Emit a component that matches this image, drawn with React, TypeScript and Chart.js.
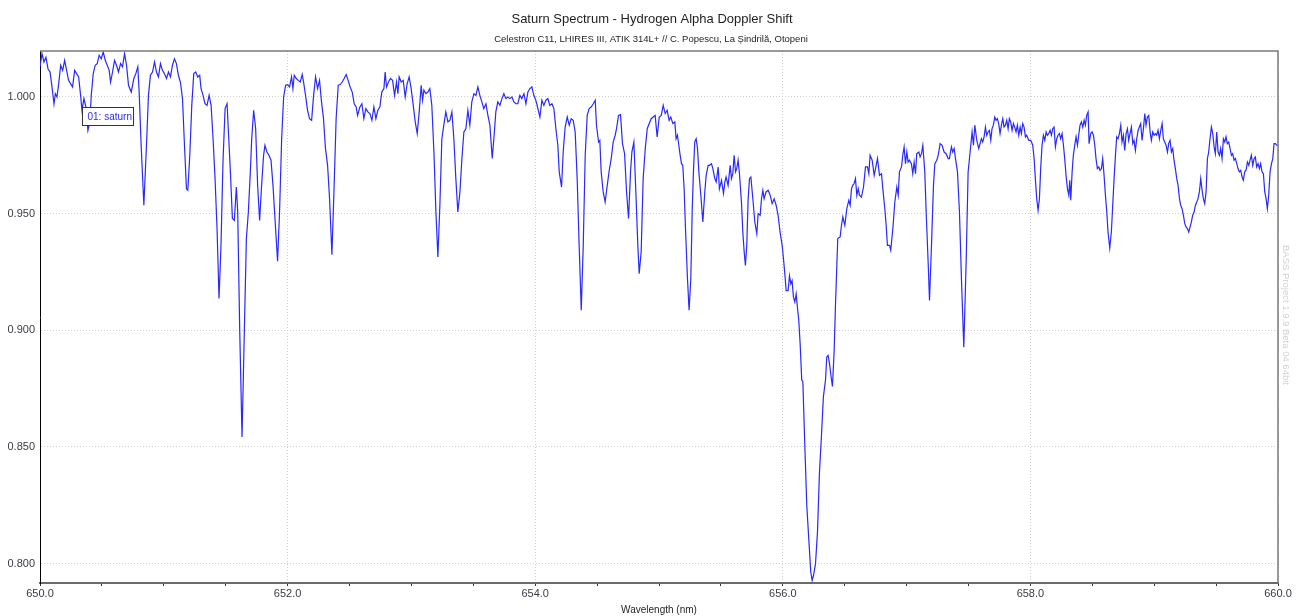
import { useEffect, useRef } from 'react';
import { Chart, registerables } from 'chart.js';

Chart.register(...registerables);

const TITLE = 'Saturn Spectrum - Hydrogen Alpha Doppler Shift';
const SUBTITLE = 'Celestron C11, LHIRES III, ATIK 314L+ // C. Popescu, La Șindrilă, Otopeni';
const X_TITLE = 'Wavelength (nm)';
const SERIES_NAME = '01: saturn';
const WATERMARK = 'BASS Project 1.9.9 Beta 04 64bit';

const X_MIN = 650;
const X_MAX = 660;
const Y_MIN = 0.7917;
const Y_MAX = 1.0197;
const X_TICKS = [650, 650.5, 651, 651.5, 652, 652.5, 653, 653.5, 654, 654.5, 655, 655.5, 656, 656.5, 657, 657.5, 658, 658.5, 659, 659.5, 660];
const X_LABELLED = [650, 652, 654, 656, 658, 660];
const Y_TICKS = [0.8, 0.85, 0.9, 0.95, 1.0];

const WAVELENGTH_NM = [
  650.000, 650.016, 650.032, 650.048, 650.065, 650.081, 650.097, 650.113, 650.124, 650.137,
  650.151, 650.167, 650.183, 650.199, 650.215, 650.231, 650.247, 650.263, 650.280, 650.296,
  650.312, 650.328, 650.339, 650.355, 650.371, 650.387, 650.403, 650.414, 650.430, 650.446,
  650.462, 650.478, 650.495, 650.511, 650.527, 650.543, 650.559, 650.570, 650.586, 650.602,
  650.618, 650.634, 650.651, 650.667, 650.683, 650.699, 650.715, 650.737, 650.758, 650.774,
  650.790, 650.801, 650.817, 650.839, 650.860, 650.876, 650.892, 650.909, 650.925, 650.941,
  650.957, 650.973, 650.989, 651.005, 651.022, 651.038, 651.054, 651.070, 651.086, 651.102,
  651.118, 651.134, 651.151, 651.167, 651.183, 651.194, 651.210, 651.226, 651.242, 651.258,
  651.274, 651.290, 651.301, 651.317, 651.333, 651.349, 651.366, 651.382, 651.398, 651.414,
  651.430, 651.446, 651.462, 651.478, 651.495, 651.511, 651.522, 651.538, 651.554, 651.570,
  651.586, 651.597, 651.613, 651.632, 651.651, 651.667, 651.683, 651.699, 651.710, 651.726,
  651.742, 651.758, 651.774, 651.790, 651.806, 651.817, 651.833, 651.849, 651.866, 651.882,
  651.898, 651.919, 651.935, 651.952, 651.968, 651.984, 652.000, 652.016, 652.032, 652.043,
  652.054, 652.070, 652.086, 652.102, 652.118, 652.129, 652.145, 652.161, 652.177, 652.194,
  652.210, 652.226, 652.242, 652.258, 652.274, 652.290, 652.306, 652.323, 652.339, 652.358,
  652.376, 652.392, 652.409, 652.425, 652.441, 652.457, 652.473, 652.489, 652.505, 652.522,
  652.538, 652.554, 652.565,
  652.584, 652.600, 652.616, 652.632, 652.648, 652.665, 652.681, 652.697, 652.713, 652.729,
  652.745, 652.761, 652.778, 652.788, 652.799, 652.815, 652.831, 652.848, 652.864, 652.880,
  652.891, 652.901, 652.918, 652.934, 652.950, 652.966, 652.982, 652.998, 653.015, 653.031,
  653.047, 653.063, 653.079, 653.090, 653.101, 653.117, 653.133, 653.149, 653.165, 653.182,
  653.198, 653.214, 653.230, 653.246, 653.262, 653.278, 653.295, 653.311, 653.327, 653.343,
  653.359, 653.375, 653.392, 653.408, 653.424, 653.440, 653.456, 653.472, 653.488, 653.505,
  653.521, 653.537, 653.553, 653.569, 653.585, 653.602, 653.618, 653.634, 653.653, 653.666,
  653.682, 653.698, 653.715, 653.731, 653.747, 653.763, 653.779, 653.795, 653.812, 653.828,
  653.844, 653.860, 653.876, 653.892, 653.909, 653.925, 653.941, 653.957, 653.973, 653.989,
  654.005, 654.022, 654.038, 654.054, 654.070, 654.086, 654.102, 654.118, 654.135, 654.151,
  654.167, 654.183, 654.194, 654.213, 654.226, 654.242, 654.259, 654.275, 654.291, 654.307,
  654.323, 654.339, 654.355, 654.372, 654.388, 654.404, 654.420, 654.436, 654.452, 654.469,
  654.485, 654.495, 654.512, 654.522, 654.533, 654.549, 654.565, 654.582, 654.598, 654.614,
  654.630, 654.646, 654.657, 654.673, 654.689, 654.705, 654.722, 654.738, 654.754, 654.770,
  654.781, 654.797, 654.813, 654.829, 654.840, 654.856, 654.872, 654.889, 654.905, 654.921,
  654.937, 654.953, 654.969, 654.985, 655.002, 655.018, 655.034, 655.050, 655.066, 655.082,
  655.095, 655.112, 655.128, 655.138, 655.149, 655.160, 655.171, 655.182, 655.192, 655.203,
  655.214, 655.230, 655.243, 655.257, 655.268, 655.278, 655.289, 655.300, 655.311, 655.322,
  655.338, 655.354, 655.370, 655.381, 655.397, 655.408, 655.424, 655.435, 655.451, 655.462,
  655.478, 655.488, 655.505, 655.521, 655.532, 655.542, 655.558, 655.575, 655.585, 655.596,
  655.607, 655.618, 655.628, 655.639, 655.650, 655.666, 655.677, 655.688, 655.698, 655.709,
  655.720, 655.731, 655.742, 655.758, 655.774, 655.790, 655.801, 655.817, 655.828, 655.839,
  655.849, 655.865, 655.882, 655.898, 655.914, 655.930, 655.946, 655.962, 655.978, 655.995,
  656.005, 656.019, 656.027, 656.043, 656.054, 656.065, 656.075, 656.086, 656.097, 656.108,
  656.118, 656.129, 656.140, 656.153, 656.162, 656.178, 656.194, 656.210, 656.226, 656.237,
  656.248, 656.264, 656.280, 656.296, 656.312, 656.328, 656.345, 656.355, 656.366, 656.377,
  656.390, 656.401, 656.415, 656.425, 656.436,
  656.444, 656.463, 656.474, 656.485, 656.501, 656.517, 656.533, 656.544, 656.555, 656.565,
  656.576, 656.587, 656.598, 656.609, 656.619, 656.635, 656.652, 656.668, 656.684, 656.695,
  656.705, 656.722, 656.738, 656.754, 656.765, 656.781, 656.797, 656.808, 656.824, 656.835,
  656.845, 656.862, 656.872, 656.889, 656.905, 656.921, 656.932, 656.942, 656.959, 656.969,
  656.980, 656.991, 657.002, 657.012, 657.023, 657.039, 657.050, 657.061, 657.072, 657.082,
  657.099, 657.109, 657.120, 657.131, 657.147, 657.158, 657.174, 657.185, 657.201, 657.217,
  657.228, 657.244, 657.255, 657.271, 657.287, 657.303, 657.319, 657.336, 657.346, 657.362,
  657.373, 657.384, 657.395, 657.411, 657.427, 657.443, 657.462, 657.481, 657.497, 657.513,
  657.529, 657.540, 657.551, 657.567, 657.583,
  657.604, 657.615, 657.626, 657.637, 657.647, 657.658, 657.669, 657.680, 657.690, 657.701,
  657.712, 657.723, 657.733, 657.744, 657.755, 657.766, 657.777, 657.787, 657.798, 657.809,
  657.820, 657.830, 657.841, 657.852, 657.863, 657.873, 657.884, 657.895, 657.906, 657.917,
  657.927, 657.938, 657.949, 657.960, 657.970, 657.987, 658.003, 658.019, 658.030, 658.040,
  658.051, 658.062, 658.073, 658.083, 658.094, 658.105, 658.116, 658.127, 658.137, 658.148,
  658.159, 658.170, 658.180, 658.191, 658.202, 658.213, 658.223, 658.234, 658.245, 658.256,
  658.267, 658.277, 658.288, 658.299, 658.310, 658.318, 658.326, 658.337, 658.347, 658.358,
  658.369, 658.380, 658.390, 658.401, 658.412, 658.423, 658.434, 658.444, 658.455, 658.466,
  658.474, 658.487, 658.498, 658.509, 658.520, 658.530, 658.541, 658.552, 658.563, 658.574,
  658.584, 658.595, 658.606, 658.617, 658.627, 658.641, 658.654, 658.665, 658.676, 658.687,
  658.697, 658.708, 658.719, 658.730, 658.740, 658.751, 658.762, 658.773, 658.784, 658.794,
  658.805, 658.816, 658.827, 658.837, 658.848, 658.859, 658.870, 658.880, 658.891, 658.902,
  658.913, 658.924, 658.934, 658.945, 658.956, 658.967, 658.977, 658.988, 658.999, 659.010,
  659.020, 659.031, 659.042, 659.053, 659.064, 659.074, 659.085, 659.096, 659.107, 659.117,
  659.128, 659.139, 659.150, 659.160, 659.171, 659.182, 659.193, 659.204, 659.214, 659.225,
  659.236, 659.247, 659.257, 659.268, 659.279, 659.290, 659.300, 659.311, 659.322, 659.333,
  659.344, 659.354, 659.365, 659.376, 659.387, 659.397, 659.408, 659.419, 659.430, 659.440,
  659.451, 659.462, 659.473, 659.484, 659.494, 659.505, 659.516, 659.527, 659.537, 659.548,
  659.559, 659.570, 659.580, 659.591, 659.602, 659.613, 659.624, 659.634, 659.645, 659.656,
  659.667, 659.677, 659.688, 659.699, 659.710, 659.720, 659.731, 659.742, 659.753, 659.764,
  659.774, 659.785, 659.796, 659.807, 659.817, 659.828, 659.839, 659.850, 659.860, 659.871,
  659.882, 659.893, 659.904, 659.914, 659.925, 659.936, 659.947, 659.958, 659.968, 659.979,
  659.990, 660.000,
];

const RELATIVE_FLUX = [
  1.0129, 1.0186, 1.0150, 1.0170, 1.0120, 1.0107, 1.0043, 0.9970, 1.0014, 1.0000,
  1.0057, 1.0136, 1.0114, 1.0157, 1.0114, 1.0071, 1.0057, 1.0043, 1.0114, 1.0100,
  1.0086, 1.0007, 0.9943, 0.9993, 0.9957, 0.9857, 0.9893, 1.0007, 1.0100, 1.0136,
  1.0143, 1.0179, 1.0164, 1.0193, 1.0157, 1.0136, 1.0114, 1.0064, 1.0107, 1.0157,
  1.0136, 1.0107, 1.0143, 1.0129, 1.0186, 1.0136, 1.0050, 1.0021, 1.0079, 1.0100,
  1.0129, 1.0021, 0.9793, 0.9536, 0.9793, 1.0007, 1.0093, 1.0107, 1.0150, 1.0107,
  1.0086, 1.0143, 1.0114, 1.0100, 1.0079, 1.0107, 1.0086, 1.0136, 1.0164, 1.0143,
  1.0093, 1.0064, 0.9993, 0.9793, 0.9607, 0.9600, 0.9750, 0.9964, 1.0100, 1.0107,
  1.0086, 1.0093, 1.0036, 1.0007, 0.9971, 0.9964, 1.0007, 0.9964, 0.9821, 0.9650,
  0.9436, 0.9136, 0.9364, 0.9721, 0.9950, 0.9971, 0.9850, 0.9679, 0.9479, 0.9471,
  0.9614, 0.9507, 0.9007, 0.8543, 0.9007, 0.9393, 0.9507, 0.9679, 0.9821, 0.9943,
  0.9864, 0.9621, 0.9471, 0.9621, 0.9750, 0.9793, 0.9764, 0.9750, 0.9729, 0.9621,
  0.9479, 0.9296, 0.9507, 0.9821, 1.0000, 1.0050, 1.0053, 1.0043, 1.0086, 1.0036,
  1.0093, 1.0079, 1.0071, 1.0064, 1.0096, 1.0064, 1.0007, 0.9943, 0.9907, 0.9900,
  1.0007, 1.0086, 1.0036, 1.0071, 0.9979, 0.9907, 0.9779, 0.9707, 0.9564, 0.9324,
  0.9621, 0.9907, 1.0050, 1.0053, 1.0064, 1.0079, 1.0096, 1.0071, 1.0043, 1.0021,
  0.9971, 0.9957, 0.9921,
  0.9957, 0.9971, 0.9907, 0.9950, 0.9936, 0.9929, 0.9900, 0.9957, 0.9907, 0.9943,
  0.9957, 1.0021, 1.0036, 1.0107, 1.0043, 1.0064, 1.0079, 1.0071, 1.0007, 1.0064,
  1.0014, 1.0086, 1.0064, 1.0071, 1.0000, 1.0057, 1.0086, 1.0036, 0.9964, 0.9893,
  0.9843, 0.9936, 1.0050, 0.9986, 1.0029, 1.0014, 1.0021, 1.0036, 0.9964, 0.9764,
  0.9507, 0.9314, 0.9536, 0.9821, 0.9879, 0.9936, 0.9893, 0.9900, 0.9936, 0.9821,
  0.9650, 0.9507, 0.9593, 0.9736, 0.9850, 0.9864, 0.9943, 0.9879, 0.9979, 1.0014,
  1.0007, 1.0043, 1.0007, 0.9979, 0.9950, 0.9971, 0.9921, 0.9879, 0.9736, 0.9821,
  0.9936, 0.9979, 0.9964, 0.9993, 1.0014, 0.9993, 1.0000, 0.9993, 1.0000, 0.9979,
  0.9971, 0.9971, 1.0007, 0.9993, 1.0014, 0.9971, 1.0021, 1.0036, 1.0043, 1.0007,
  0.9986, 0.9950, 0.9914, 0.9986, 0.9964, 0.9986, 0.9993, 0.9964, 0.9971, 0.9950,
  0.9864, 0.9793, 0.9679, 0.9614, 0.9764, 0.9871, 0.9914, 0.9879, 0.9907, 0.9900,
  0.9850, 0.9650, 0.9364, 0.9086, 0.9364, 0.9750, 0.9921, 0.9950, 0.9957, 0.9971,
  0.9986, 0.9879, 0.9807, 0.9814, 0.9679, 0.9593, 0.9550, 0.9621, 0.9686, 0.9736,
  0.9807, 0.9836, 0.9864, 0.9921, 0.9924, 0.9800, 0.9757, 0.9593, 0.9479, 0.9679,
  0.9764, 0.9807, 0.9593, 0.9364, 0.9243, 0.9336, 0.9650, 0.9779, 0.9864, 0.9886,
  0.9907, 0.9914, 0.9921, 0.9829, 0.9914, 0.9921, 0.9964, 0.9929, 0.9943, 0.9900,
  0.9914, 0.9886, 0.9893, 0.9821, 0.9836, 0.9793, 0.9750, 0.9714, 0.9707, 0.9607,
  0.9436, 0.9221, 0.9086, 0.9221, 0.9507, 0.9679, 0.9807, 0.9821, 0.9779, 0.9679,
  0.9579, 0.9464, 0.9593, 0.9664, 0.9707, 0.9707, 0.9714, 0.9693, 0.9650, 0.9636,
  0.9700, 0.9607, 0.9643, 0.9586, 0.9636, 0.9657, 0.9621, 0.9707, 0.9650, 0.9671,
  0.9750, 0.9679, 0.9693, 0.9729, 0.9671, 0.9550, 0.9421, 0.9336, 0.9278, 0.9364,
  0.9564, 0.9650, 0.9657, 0.9564, 0.9464, 0.9414, 0.9500, 0.9493, 0.9564, 0.9600,
  0.9564, 0.9593, 0.9600, 0.9579, 0.9543, 0.9564, 0.9536, 0.9493, 0.9421, 0.9364,
  0.9310, 0.9227, 0.9170, 0.9170, 0.9234, 0.9199, 0.9213, 0.9142, 0.9121, 0.9156,
  0.9099, 0.9043, 0.8943, 0.8787, 0.8780, 0.8503, 0.8247, 0.8105, 0.7963, 0.7928,
  0.7949, 0.7999, 0.8134, 0.8389, 0.8546, 0.8716, 0.8787, 0.8886, 0.8893, 0.8858,
  0.8801, 0.8759, 0.8915, 0.9099, 0.9270,
  0.9393, 0.9400, 0.9450, 0.9486, 0.9450, 0.9521, 0.9557, 0.9536, 0.9607, 0.9621,
  0.9629, 0.9650, 0.9579, 0.9607, 0.9579, 0.9571, 0.9614, 0.9700, 0.9700, 0.9671,
  0.9750, 0.9729, 0.9664, 0.9707, 0.9736, 0.9664, 0.9671, 0.9607, 0.9521, 0.9450,
  0.9364, 0.9364, 0.9343, 0.9436, 0.9550, 0.9614, 0.9579, 0.9679, 0.9700, 0.9750,
  0.9786, 0.9714, 0.9764, 0.9721, 0.9729, 0.9714, 0.9671, 0.9721, 0.9671, 0.9757,
  0.9764, 0.9743, 0.9757, 0.9793, 0.9679, 0.9507, 0.9293, 0.9128, 0.9364, 0.9621,
  0.9714, 0.9729, 0.9750, 0.9800, 0.9793, 0.9764, 0.9757, 0.9736, 0.9736, 0.9786,
  0.9764, 0.9779, 0.9736, 0.9679, 0.9507, 0.9221, 0.8927, 0.9293, 0.9679, 0.9764,
  0.9850, 0.9793, 0.9879, 0.9814, 0.9779,
  0.9821, 0.9807, 0.9829, 0.9871, 0.9836, 0.9850, 0.9857, 0.9814, 0.9864, 0.9879,
  0.9914, 0.9900, 0.9907, 0.9886, 0.9843, 0.9879, 0.9907, 0.9871, 0.9879, 0.9900,
  0.9864, 0.9907, 0.9893, 0.9857, 0.9886, 0.9871, 0.9850, 0.9879, 0.9836, 0.9871,
  0.9843, 0.9886, 0.9871, 0.9829, 0.9836, 0.9814, 0.9814, 0.9793, 0.9736, 0.9650,
  0.9564, 0.9514, 0.9564, 0.9693, 0.9793, 0.9836, 0.9814, 0.9850, 0.9836, 0.9843,
  0.9857, 0.9836, 0.9864, 0.9871, 0.9786, 0.9821, 0.9836, 0.9843, 0.9821, 0.9843,
  0.9793, 0.9736, 0.9664, 0.9607, 0.9579, 0.9643, 0.9557, 0.9679, 0.9750, 0.9793,
  0.9829, 0.9793, 0.9836, 0.9879, 0.9893, 0.9871, 0.9900, 0.9879, 0.9921, 0.9936,
  0.9800, 0.9843, 0.9850, 0.9836, 0.9793, 0.9736, 0.9693, 0.9700, 0.9686, 0.9693,
  0.9736, 0.9664, 0.9579, 0.9507, 0.9421, 0.9353, 0.9421, 0.9536, 0.9650, 0.9750,
  0.9829, 0.9821, 0.9843, 0.9879, 0.9807, 0.9836, 0.9771, 0.9843, 0.9864, 0.9814,
  0.9843, 0.9871, 0.9800, 0.9814, 0.9771, 0.9821, 0.9857, 0.9871, 0.9886, 0.9814,
  0.9864, 0.9929, 0.9879, 0.9914, 0.9921, 0.9850, 0.9814, 0.9850, 0.9836, 0.9843,
  0.9836, 0.9857, 0.9821, 0.9857, 0.9886, 0.9821, 0.9807, 0.9793, 0.9764, 0.9800,
  0.9814, 0.9764, 0.9779, 0.9729, 0.9693, 0.9650, 0.9621, 0.9564, 0.9536, 0.9521,
  0.9493, 0.9457, 0.9443, 0.9436, 0.9421, 0.9443, 0.9464, 0.9493, 0.9507, 0.9536,
  0.9550, 0.9564, 0.9593, 0.9650, 0.9600, 0.9564, 0.9543, 0.9593, 0.9736, 0.9764,
  0.9821, 0.9871, 0.9843, 0.9786, 0.9757, 0.9850, 0.9764, 0.9750, 0.9779, 0.9736,
  0.9821, 0.9807, 0.9829, 0.9800, 0.9807, 0.9779, 0.9750, 0.9757, 0.9729, 0.9736,
  0.9714, 0.9693, 0.9679, 0.9686, 0.9657, 0.9643, 0.9679, 0.9686, 0.9721, 0.9707,
  0.9729, 0.9750, 0.9707, 0.9736, 0.9743, 0.9700, 0.9714, 0.9693, 0.9714, 0.9679,
  0.9671, 0.9593, 0.9564, 0.9521, 0.9579, 0.9679, 0.9714, 0.9736, 0.9800, 0.9800,
  0.9793, 0.9793,
];

const FONT = "'Liberation Sans', Arial, sans-serif";

const decorPlugin = {
  id: 'decor',
  afterDraw(chart: any) {
    const { ctx, chartArea } = chart;
    const { left, right, top, bottom } = chartArea;
    const cx = (left + right) / 2;
    ctx.save();
    // frame (top / right)
    ctx.strokeStyle = '#7a7a7a';
    ctx.lineWidth = 1.5;
    ctx.beginPath();
    ctx.moveTo(left, top);
    ctx.lineTo(right, top);
    ctx.lineTo(right, bottom);
    ctx.stroke();
    // titles
    ctx.fillStyle = '#1e1e1e';
    ctx.textAlign = 'center';
    ctx.textBaseline = 'middle';
    ctx.font = `13px ${FONT}`;
    ctx.fillText(TITLE, cx - 7, 19);
    ctx.font = `9.5px ${FONT}`;
    ctx.fillText(SUBTITLE, cx - 8, 39);
    ctx.font = `10px ${FONT}`;
    ctx.fillText(X_TITLE, cx, 610);
    // watermark
    ctx.save();
    ctx.translate(right + 8, 315);
    ctx.rotate(Math.PI / 2);
    ctx.fillStyle = '#d2d2d2';
    ctx.font = `9.5px ${FONT}`;
    ctx.fillText(WATERMARK, 0, 0);
    ctx.restore();
    // series label box
    const bx = 82.5, by = 107.5, bw = 51, bh = 18;
    ctx.fillStyle = '#ffffff';
    ctx.fillRect(bx, by, bw, bh);
    ctx.strokeStyle = '#333333';
    ctx.lineWidth = 1;
    ctx.strokeRect(bx, by, bw, bh);
    ctx.fillStyle = '#2b2bff';
    ctx.textAlign = 'left';
    ctx.font = `10px ${FONT}`;
    ctx.fillText(SERIES_NAME, bx + 5, by + bh / 2 + 0.5);
    ctx.restore();
  },
};

export default function App() {
  const canvasRef = useRef<HTMLCanvasElement | null>(null);

  useEffect(() => {
    if (!canvasRef.current) return;
    const points = WAVELENGTH_NM.map((x, i) => ({ x, y: RELATIVE_FLUX[i] }));
    const chart = new Chart(canvasRef.current, {
      type: 'line',
      data: {
        datasets: [
          {
            label: SERIES_NAME,
            data: points,
            borderColor: 'rgb(40, 40, 255)',
            borderWidth: 1.2,
            pointRadius: 0,
            tension: 0,
            fill: false,
          },
        ],
      },
      options: {
        animation: false,
        responsive: false,
        devicePixelRatio: 1,
        parsing: false as any,
        layout: { padding: { top: 51, right: 23, left: 0, bottom: 0 } },
        plugins: {
          legend: { display: false },
          tooltip: { enabled: false },
          title: { display: false },
        },
        scales: {
          x: {
            type: 'linear',
            min: X_MIN,
            max: X_MAX,
            afterBuildTicks: (scale: any) => {
              scale.ticks = X_TICKS.map((v) => ({ value: v }));
            },
            afterFit: (scale: any) => {
              scale.height = 33;
            },
            ticks: {
              autoSkip: false,
              maxRotation: 0,
              minRotation: 0,
              padding: 1,
              color: '#3a3a48',
              font: { family: FONT, size: 11 },
              callback: (value: any) =>
                X_LABELLED.includes(Number(value)) ? Number(value).toFixed(1) : '',
            },
            grid: {
              drawTicks: true,
              tickLength: 3,
              tickColor: '#333333',
              tickWidth: 1,
              color: (c: any) =>
                c.tick && X_LABELLED.includes(c.tick.value) ? '#cfcfcf' : 'rgba(0,0,0,0)',
              lineWidth: 1,
            },
            border: { display: true, color: '#6a6a6a', width: 2, dash: [1, 2] },
          },
          y: {
            type: 'linear',
            min: Y_MIN,
            max: Y_MAX,
            afterBuildTicks: (scale: any) => {
              scale.ticks = Y_TICKS.map((v) => ({ value: v }));
            },
            afterFit: (scale: any) => {
              scale.width = 40;
            },
            ticks: {
              padding: 5,
              color: '#3a3a48',
              font: { family: FONT, size: 11 },
              callback: (value: any) => Number(value).toFixed(3),
            },
            grid: {
              drawTicks: false,
              color: '#cfcfcf',
              lineWidth: 1,
            },
            border: { display: true, color: '#000000', width: 1, dash: [1, 2] },
          },
        },
      },
      plugins: [decorPlugin],
    });
    return () => chart.destroy();
  }, []);

  return (
    <div style={{ position: 'fixed', left: 0, top: 0, width: 1301, height: 616, background: '#ffffff' }}>
      <canvas ref={canvasRef} width={1301} height={616} style={{ width: 1301, height: 616, display: 'block' }} />
    </div>
  );
}
